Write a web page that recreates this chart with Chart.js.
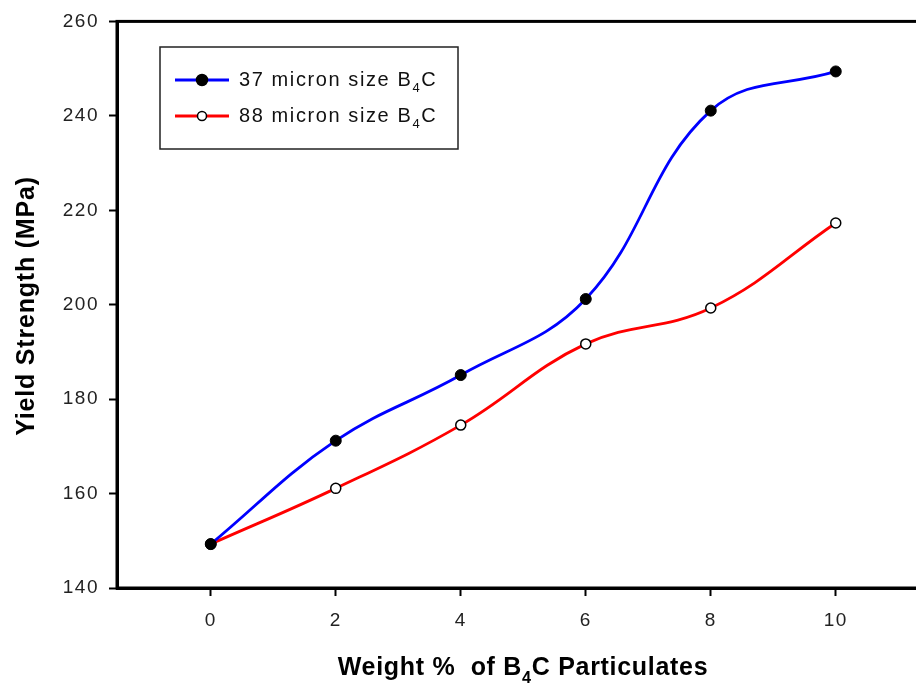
<!DOCTYPE html>
<html>
<head>
<meta charset="utf-8">
<script src="https://cdn.jsdelivr.net/npm/chart.js@4"></script>
<style>
  html, body { margin: 0; padding: 0; background: #fff; overflow: hidden; }
  #wrap { width: 960px; height: 684px; }
</style>
</head>
<body>
<div id="wrap"><canvas id="grafico" width="960" height="684"></canvas></div>
<script>
// DADOS
const pesoB4C = [0, 2, 4, 6, 8, 10];
const micron37 = [149.3, 171.2, 185.1, 201.2, 241.1, 249.4];
const micron88 = [149.3, 161.1, 174.5, 191.7, 199.3, 217.3];
const ticksX = [0, 2, 4, 6, 8, 10];
const ticksY = [140, 160, 180, 200, 220, 240, 260];

const FONTE = '"Liberation Sans", Arial, sans-serif';

// texto com subscrito "4" de B4C
function textoB4C(ctx, partes, x, y, tam, negrito, alinhar, espaco) {
  const peso = negrito ? "bold " : "";
  ctx.letterSpacing = (espaco || 0) + "px";
  let largura = 0;
  partes.forEach(p => {
    ctx.font = peso + (p.sub ? tam * 0.65 : tam) + "px " + FONTE;
    largura += ctx.measureText(p.t).width;
  });
  let cx = alinhar === "center" ? x - largura / 2 : x;
  ctx.textAlign = "left";
  ctx.textBaseline = "alphabetic";
  partes.forEach(p => {
    ctx.font = peso + (p.sub ? tam * 0.65 : tam) + "px " + FONTE;
    ctx.fillText(p.t, cx, y + (p.sub ? tam * 0.3 : 0));
    cx += ctx.measureText(p.t).width;
  });
  ctx.letterSpacing = "0px";
}

const molduraPlugin = {
  id: "moldura",
  beforeDraw(chart) {
    // rótulos dos eixos um pouco espaçados como no original
    chart.ctx.letterSpacing = "1.5px";
  },
  afterDraw(chart) {
    const { ctx, chartArea: a } = chart;
    ctx.save();
    ctx.letterSpacing = "0px";
    ctx.strokeStyle = "#000";
    ctx.lineWidth = 3;
    ctx.strokeRect(a.left, a.top, a.right - a.left, a.bottom - a.top);

    // legenda
    ctx.lineWidth = 1.5;
    ctx.strokeStyle = "#222";
    ctx.fillStyle = "#fff";
    ctx.fillRect(160, 47, 298, 102);
    ctx.strokeRect(160, 47, 298, 102);
    const itens = [
      { cor: "#0000ff", cheio: true, y: 80, t: "37 micron size B" },
      { cor: "#ff0000", cheio: false, y: 116, t: "88 micron size B" }
    ];
    itens.forEach(it => {
      ctx.strokeStyle = it.cor;
      ctx.lineWidth = 3;
      ctx.beginPath();
      ctx.moveTo(175, it.y);
      ctx.lineTo(229, it.y);
      ctx.stroke();
      ctx.beginPath();
      ctx.arc(202, it.y, it.cheio ? 5.5 : 4.5, 0, Math.PI * 2);
      ctx.fillStyle = it.cheio ? "#000" : "#fff";
      ctx.fill();
      ctx.strokeStyle = "#000";
      ctx.lineWidth = 1.5;
      ctx.stroke();
      ctx.fillStyle = "#111";
      textoB4C(ctx, [{ t: it.t }, { t: "4", sub: true }, { t: "C" }], 239, it.y + 6, 20, false, "left", 1.6);
    });

    // títulos dos eixos
    ctx.fillStyle = "#000";
    textoB4C(ctx, [{ t: "Weight %  of B" }, { t: "4", sub: true }, { t: "C Particulates" }], 523, 675, 25, true, "center", 0.7);
    ctx.translate(34, 306);
    ctx.rotate(-Math.PI / 2);
    textoB4C(ctx, [{ t: "Yield Strength (MPa)" }], 0, 0, 25, true, "center", 0.8);
    ctx.restore();
  }
};

new Chart(document.getElementById("grafico"), {
  type: "line",
  data: {
    datasets: [
      {
        label: "37 micron size B4C",
        data: pesoB4C.map((x, i) => ({ x, y: micron37[i] })),
        borderColor: "#0000ff",
        borderWidth: 2.8,
        tension: 0.4,
        pointRadius: 5.5,
        pointBackgroundColor: "#000",
        pointBorderColor: "#000",
        pointBorderWidth: 1
      },
      {
        label: "88 micron size B4C",
        data: pesoB4C.map((x, i) => ({ x, y: micron88[i] })),
        borderColor: "#ff0000",
        borderWidth: 2.8,
        tension: 0.4,
        pointRadius: 5,
        pointBackgroundColor: "#fff",
        pointBorderColor: "#000",
        pointBorderWidth: 1.5
      }
    ]
  },
  options: {
    responsive: false,
    animation: false,
    clip: false,
    layout: { padding: { top: 20, right: 30.5, left: 0, bottom: 0 } },
    plugins: { legend: { display: false }, tooltip: { enabled: false } },
    scales: {
      x: {
        type: "linear",
        min: -1.5,
        max: 11.5,
        afterBuildTicks: s => { s.ticks = ticksX.map(v => ({ value: v })); },
        afterFit: s => { s.height = 96; },
        grid: { drawOnChartArea: false, tickLength: 8, tickColor: "#000", tickWidth: 2 },
        border: { color: "#000", width: 3 },
        ticks: { color: "#222", padding: 13, font: { family: FONTE, size: 19 } }
      },
      y: {
        min: 140,
        max: 260,
        afterBuildTicks: s => { s.ticks = ticksY.map(v => ({ value: v })); },
        afterFit: s => { s.width = 117; },
        grid: { drawOnChartArea: false, tickLength: 8, tickColor: "#000", tickWidth: 2 },
        border: { color: "#000", width: 3 },
        ticks: { color: "#222", padding: 10, font: { family: FONTE, size: 19 } }
      }
    }
  },
  plugins: [molduraPlugin]
});
</script>
</body>
</html>
